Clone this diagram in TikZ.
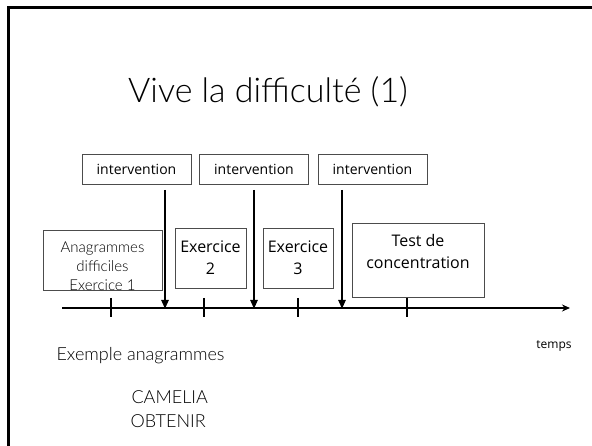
\documentclass[tikz,border=0pt]{standalone}
\usepackage{fontspec}
\setmainfont{Lato Light}
\newfontfamily\seg{Open Sans}
\usetikzlibrary{arrows.meta}
\begin{document}
\begin{tikzpicture}[x=1pt,y=-1pt,
  boxstyle/.style={draw=black!70, line width=0.8pt, inner sep=0pt, align=center},
  intbox/.style={boxstyle, minimum width=109pt, minimum height=30pt, font=\seg\fontsize{14}{16}\selectfont},
  bigarrow/.style={line width=2.6pt, -{Triangle[length=9pt,width=7pt]}},
  tick/.style={line width=1.8pt},
  framestyle/.style={line width=3pt}
]
\useasboundingbox (0,0) rectangle (592,446);
% frame
\draw[framestyle] (8,446) -- (8,8) -- (592,8);
% title
\node (title) at (268,92) {\fontsize{34}{40}\selectfont Vive la difficulté (1)};
% intervention boxes
\node[intbox] (i1) at (136.5,169) {intervention};
\node[intbox] (i2) at (254,169) {intervention};
\node[intbox] (i3) at (372.5,169) {intervention};
% task boxes
\node[boxstyle, minimum width=119pt, minimum height=60pt] (b1) at (102.5,260) {};
\node[align=center, font=\fontsize{15}{19}\selectfont] (t1) at (102.5,266) {Anagrammes\\difficiles\\Exercice 1};
\node[boxstyle, minimum width=71pt, minimum height=60pt, font=\seg\fontsize{16}{22}\selectfont] (b2) at (210.5,258) {Exercice\\2};
\node[boxstyle, minimum width=70pt, minimum height=60pt, font=\seg\fontsize{16}{22}\selectfont] (b3) at (298,258) {Exercice\\3};
\node[boxstyle, minimum width=132pt, minimum height=74pt] (b4) at (418,260) {};
\node[align=center, font=\seg\fontsize{16}{22}\selectfont] (t4) at (418,252) {Test de\\concentration};
% axis
\coordinate (axs) at (62,308);
\coordinate (axe) at (570,308);
\draw[line width=1.8pt, -{Stealth[length=8pt,width=7pt]}] (axs) -- (axe);
\node[font=\seg\fontsize{12}{14}\selectfont] (temps) at (554,346) {temps};
% ticks
\foreach \n/\x in {k1/111,k2/204,k3/298,k4/407}{
  \coordinate (\n a) at (\x,298);
  \coordinate (\n b) at (\x,317);
  \draw[tick] (\n a) -- (\n b);
}
% intervention arrows
\foreach \n/\x in {a1/165,a2/254,a3/342}{
  \coordinate (\n s) at (\x,190);
  \coordinate (\n e) at (\x,309);
  \draw[bigarrow] (\n s) -- (\n e);
}
% examples
\node[anchor=west, font=\fontsize{18}{20}\selectfont] (ex) at (53,356) {Exemple anagrammes};
\node[anchor=west, font=\fontsize{18}{20}\selectfont] (cam) at (128,397) {CAMELIA};
\node[anchor=west, font=\fontsize{18}{20}\selectfont] (obt) at (127,421) {OBTENIR};
\end{tikzpicture}
\end{document}
